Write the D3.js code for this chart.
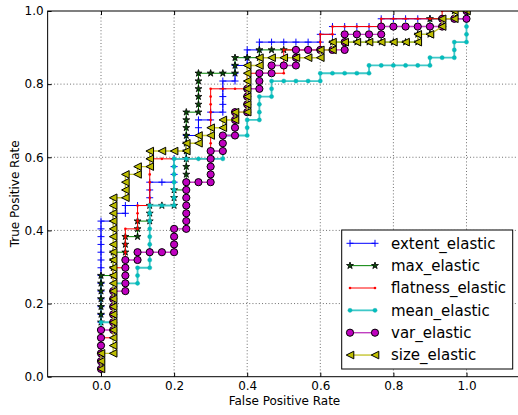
<!DOCTYPE html>
<html>
<head>
<meta charset="utf-8">
<script src="https://cdn.jsdelivr.net/npm/d3@7"></script>
<style>
    body { margin: 0; background: #fff; }
    svg { font-family: "DejaVu Sans", sans-serif; }
</style>
</head>
<body>
<svg id="chart" width="518" height="415"></svg>
<script>
// counts of negatives / positives in the test set
const nNeg = 30, nPos = 47;

const xTicks = [0, 0.2, 0.4, 0.6, 0.8, 1.0];
const yTicks = [0, 0.2, 0.4, 0.6, 0.8, 1.0];
const seriesNames = ["extent_elastic", "max_elastic", "flatness_elastic", "mean_elastic", "var_elastic", "size_elastic"];

// ROC points as [false positives, true positives]
const extentElastic = [[0,1],[0,2],[0,3],[0,4],[0,5],[0,6],[0,7],[0,8],[0,9],[0,10],[0,11],[0,12],[0,13],[0,14],[0,15],[0,16],[0,17],[0,18],[0,19],[0,20],[1,20],[1,21],[2,21],[2,22],[3,22],[4,22],[4,23],[4,24],[4,25],[5,25],[6,25],[6,26],[6,27],[6,28],[7,28],[7,29],[7,30],[7,31],[8,31],[8,32],[8,33],[9,33],[9,34],[10,34],[10,35],[10,36],[10,37],[10,38],[11,38],[11,39],[11,40],[12,40],[12,41],[12,42],[13,42],[13,43],[14,43],[15,43],[16,43],[17,43],[18,43],[18,44],[19,44],[19,45],[20,45],[21,45],[22,45],[23,45],[23,46],[24,46],[25,46],[26,46],[27,46],[28,46],[29,46],[30,46],[30,47]];
const maxElastic = [[0,1],[0,2],[0,3],[0,4],[0,5],[0,6],[0,7],[0,8],[0,9],[0,10],[0,11],[0,12],[0,13],[1,13],[1,14],[1,15],[1,16],[2,16],[2,17],[2,18],[3,18],[3,19],[3,20],[4,20],[4,21],[4,22],[5,22],[6,22],[6,23],[6,24],[7,24],[7,25],[7,26],[7,27],[7,28],[7,29],[7,30],[7,31],[7,32],[7,33],[7,34],[8,34],[8,35],[8,36],[8,37],[8,38],[8,39],[9,39],[10,39],[11,39],[11,40],[11,41],[12,41],[13,41],[13,42],[14,42],[15,42],[16,42],[17,42],[18,42],[19,42],[19,43],[20,43],[21,43],[22,43],[23,43],[24,43],[25,43],[26,43],[26,44],[27,44],[27,45],[27,46],[28,46],[29,46],[29,47],[30,47]];
const flatnessElastic = [[0,1],[0,2],[0,3],[0,4],[0,5],[1,5],[1,6],[1,7],[1,8],[1,9],[1,10],[1,11],[1,12],[1,13],[1,14],[2,14],[2,15],[2,16],[2,17],[2,18],[2,19],[3,19],[3,20],[3,21],[3,22],[4,22],[4,23],[4,24],[4,25],[4,26],[4,27],[4,28],[5,28],[6,28],[7,28],[8,28],[9,28],[9,29],[9,30],[9,31],[9,32],[9,33],[9,34],[9,35],[9,36],[9,37],[10,37],[11,37],[12,37],[12,38],[12,39],[13,39],[14,39],[15,39],[15,40],[15,41],[15,42],[16,42],[17,42],[18,42],[18,43],[18,44],[19,44],[19,45],[20,45],[21,45],[22,45],[23,45],[23,46],[24,46],[25,46],[26,46],[27,46],[28,46],[28,47],[29,47],[30,47]];
const meanElastic = [[0,1],[0,2],[0,3],[0,4],[0,5],[0,6],[0,7],[1,7],[1,8],[1,9],[1,10],[1,11],[1,12],[2,12],[3,12],[3,13],[3,14],[4,14],[4,15],[4,16],[4,17],[4,18],[4,19],[4,20],[4,21],[4,22],[5,22],[6,22],[6,23],[6,24],[6,25],[6,26],[6,27],[6,28],[7,28],[8,28],[9,28],[10,28],[10,29],[10,30],[10,31],[11,31],[12,31],[12,32],[12,33],[13,33],[13,34],[13,35],[13,36],[14,36],[14,37],[14,38],[15,38],[16,38],[17,38],[18,38],[18,39],[19,39],[20,39],[21,39],[22,39],[22,40],[23,40],[24,40],[25,40],[26,40],[27,40],[27,41],[28,41],[29,41],[29,42],[29,43],[30,43],[30,44],[30,45],[30,46],[30,47]];
const varElastic = [[0,1],[0,2],[0,3],[0,4],[0,5],[0,6],[1,6],[1,7],[1,8],[1,9],[1,10],[1,11],[2,11],[2,12],[2,13],[2,14],[2,15],[3,15],[3,16],[4,16],[5,16],[6,16],[6,17],[6,18],[6,19],[7,19],[7,20],[7,21],[7,22],[7,23],[7,24],[7,25],[8,25],[9,25],[9,26],[9,27],[9,28],[9,29],[10,29],[10,30],[10,31],[11,31],[11,32],[11,33],[11,34],[12,34],[12,35],[12,36],[12,37],[13,37],[13,38],[13,39],[14,39],[14,40],[15,40],[16,40],[16,41],[16,42],[17,42],[18,42],[19,42],[20,42],[20,43],[20,44],[21,44],[22,44],[23,44],[23,45],[24,45],[25,45],[26,45],[27,45],[28,45],[28,46],[29,46],[30,46],[30,47]];
const sizeElastic = [[0,1],[0,2],[0,3],[1,3],[1,4],[1,5],[1,6],[1,7],[1,8],[1,9],[1,10],[1,11],[1,12],[1,13],[1,14],[1,15],[1,16],[1,17],[1,18],[1,19],[1,20],[1,21],[1,22],[1,23],[2,23],[2,24],[2,25],[2,26],[3,26],[3,27],[4,27],[4,28],[4,29],[5,29],[6,29],[7,29],[7,30],[8,30],[8,31],[9,31],[9,32],[10,32],[10,33],[11,33],[11,34],[12,34],[12,35],[12,36],[12,37],[12,38],[12,39],[12,40],[13,40],[13,41],[14,41],[15,41],[16,41],[17,41],[18,41],[18,42],[19,42],[19,43],[20,43],[21,43],[22,43],[23,43],[24,43],[25,43],[26,43],[26,44],[27,44],[28,45],[28,46],[29,46],[29,47],[30,47]];

const plus = "M-3.5,0H3.5M0,-3.5V3.5";
const triLeft = "M-3.8,0L3.8,-3.8L3.8,3.8Z";
const star = d3.symbol(d3.symbolStar, 15)();
const smallDot = d3.symbol(d3.symbolCircle, Math.PI * 1.3 * 1.3)();
const dot = d3.symbol(d3.symbolCircle, Math.PI * 2.1 * 2.1)();
const circle = d3.symbol(d3.symbolCircle, Math.PI * 3.6 * 3.6)();

const series = [
    { data: extentElastic, color: "#0000ff", lw: 1, shape: plus, fill: "none", edge: "#0000ff", ew: 1 },
    { data: maxElastic, color: "#008000", lw: 1, shape: star, fill: "#0a4a0a", edge: "#000", ew: 0.8 },
    { data: flatnessElastic, color: "#ff0000", lw: 1, shape: smallDot, fill: "#ff0000", edge: "none", ew: 0 },
    { data: meanElastic, color: "#3ec8c8", lw: 1.8, shape: dot, fill: "#00bfbf", edge: "#20a8a8", ew: 0.4 },
    { data: varElastic, color: "#c040c0", lw: 1.4, shape: circle, fill: "#bf00bf", edge: "#000", ew: 1 },
    { data: sizeElastic, color: "#c4c430", lw: 1.4, shape: triLeft, fill: "#bfbf00", edge: "#000", ew: 1 }
];

const xlim = [-0.146, 1.15];
const x = d3.scaleLinear().domain([0, 1]).range([101, 466.5]);
const y = d3.scaleLinear().domain([0, 1]).range([376.7, 11]);
const axLeft = x(xlim[0]), axRight = x(xlim[1]), axTop = y(1), axBottom = y(0);

const svg = d3.select("#chart");

svg.append("clipPath").attr("id", "clip")
    .append("rect")
    .attr("x", axLeft).attr("y", axTop)
    .attr("width", axRight - axLeft).attr("height", axBottom - axTop);

// dotted grid
const grid = svg.append("g").attr("stroke", "#000").attr("stroke-width", 0.7)
    .attr("stroke-dasharray", "1,2.2").attr("opacity", 0.8);
grid.selectAll(".gx").data(xTicks).join("line")
    .attr("x1", d => x(d)).attr("x2", d => x(d))
    .attr("y1", axTop).attr("y2", axBottom);
grid.selectAll(".gy").data(yTicks.slice(1, -1)).join("line")
    .attr("x1", axLeft).attr("x2", axRight)
    .attr("y1", d => y(d)).attr("y2", d => y(d));

// curves, drawn in plotting order so later series sit on top
const plotArea = svg.append("g").attr("clip-path", "url(#clip)");
const line = d3.line()
    .x(d => x(d[0] / nNeg))
    .y(d => y(d[1] / nPos));

series.forEach(s => {
    const g = plotArea.append("g");
    g.append("path")
        .attr("d", line(s.data))
        .attr("fill", "none")
        .attr("stroke", s.color)
        .attr("stroke-width", s.lw);
    g.selectAll("path.m").data(s.data).join("path")
        .attr("class", "m")
        .attr("d", s.shape)
        .attr("transform", d => `translate(${x(d[0] / nNeg)},${y(d[1] / nPos)})`)
        .attr("fill", s.fill)
        .attr("stroke", s.edge)
        .attr("stroke-width", s.ew);
});

// axes with inward ticks
const fmt = d3.format(".1f");
const xAxis = svg.append("g")
    .attr("transform", `translate(0,${axBottom})`)
    .call(d3.axisBottom(x).tickValues(xTicks).tickFormat(fmt).tickSizeInner(-4).tickSizeOuter(0).tickPadding(5));
const xAxisTop = svg.append("g")
    .attr("transform", `translate(0,${axTop})`)
    .call(d3.axisTop(x).tickValues(xTicks).tickFormat("").tickSizeInner(-4).tickSizeOuter(0));
const yAxis = svg.append("g")
    .attr("transform", `translate(${axLeft},0)`)
    .call(d3.axisLeft(y).tickValues(yTicks).tickFormat(fmt).tickSizeInner(-4).tickSizeOuter(0).tickPadding(4));
[xAxis, xAxisTop, yAxis].forEach(a => {
    a.select(".domain").remove();
    a.selectAll("text").attr("font-size", 12).attr("fill", "#000").attr("font-family", "DejaVu Sans");
    a.selectAll("line").attr("stroke", "#000");
});

svg.append("rect")
    .attr("x", axLeft).attr("y", axTop)
    .attr("width", axRight - axLeft).attr("height", axBottom - axTop)
    .attr("fill", "none").attr("stroke", "#000").attr("stroke-width", 1);

svg.append("text")
    .attr("x", (axLeft + axRight) / 2).attr("y", 405)
    .attr("text-anchor", "middle").attr("font-size", 12)
    .text("False Positive Rate");
svg.append("text")
    .attr("transform", `translate(19,${(axTop + axBottom) / 2}) rotate(-90)`)
    .attr("text-anchor", "middle").attr("font-size", 12)
    .text("True Positive Rate");

// legend
const legend = svg.append("g");
legend.append("rect")
    .attr("x", 341.7).attr("y", 230)
    .attr("width", 171).attr("height", 139)
    .attr("fill", "#fff").attr("stroke", "#000").attr("stroke-width", 1);

series.forEach((s, i) => {
    const cy = 243.3 + i * 22.35;
    const row = legend.append("g");
    row.append("line")
        .attr("x1", 350).attr("x2", 375)
        .attr("y1", cy).attr("y2", cy)
        .attr("stroke", s.color).attr("stroke-width", s.lw);
    row.selectAll("path").data([350, 375]).join("path")
        .attr("d", s.shape)
        .attr("transform", d => `translate(${d},${cy})`)
        .attr("fill", s.fill)
        .attr("stroke", s.edge)
        .attr("stroke-width", s.ew);
    row.append("text")
        .attr("x", 391).attr("y", cy).attr("dy", "0.35em")
        .attr("font-size", 15)
        .text(seriesNames[i]);
});
</script>
</body>
</html>
